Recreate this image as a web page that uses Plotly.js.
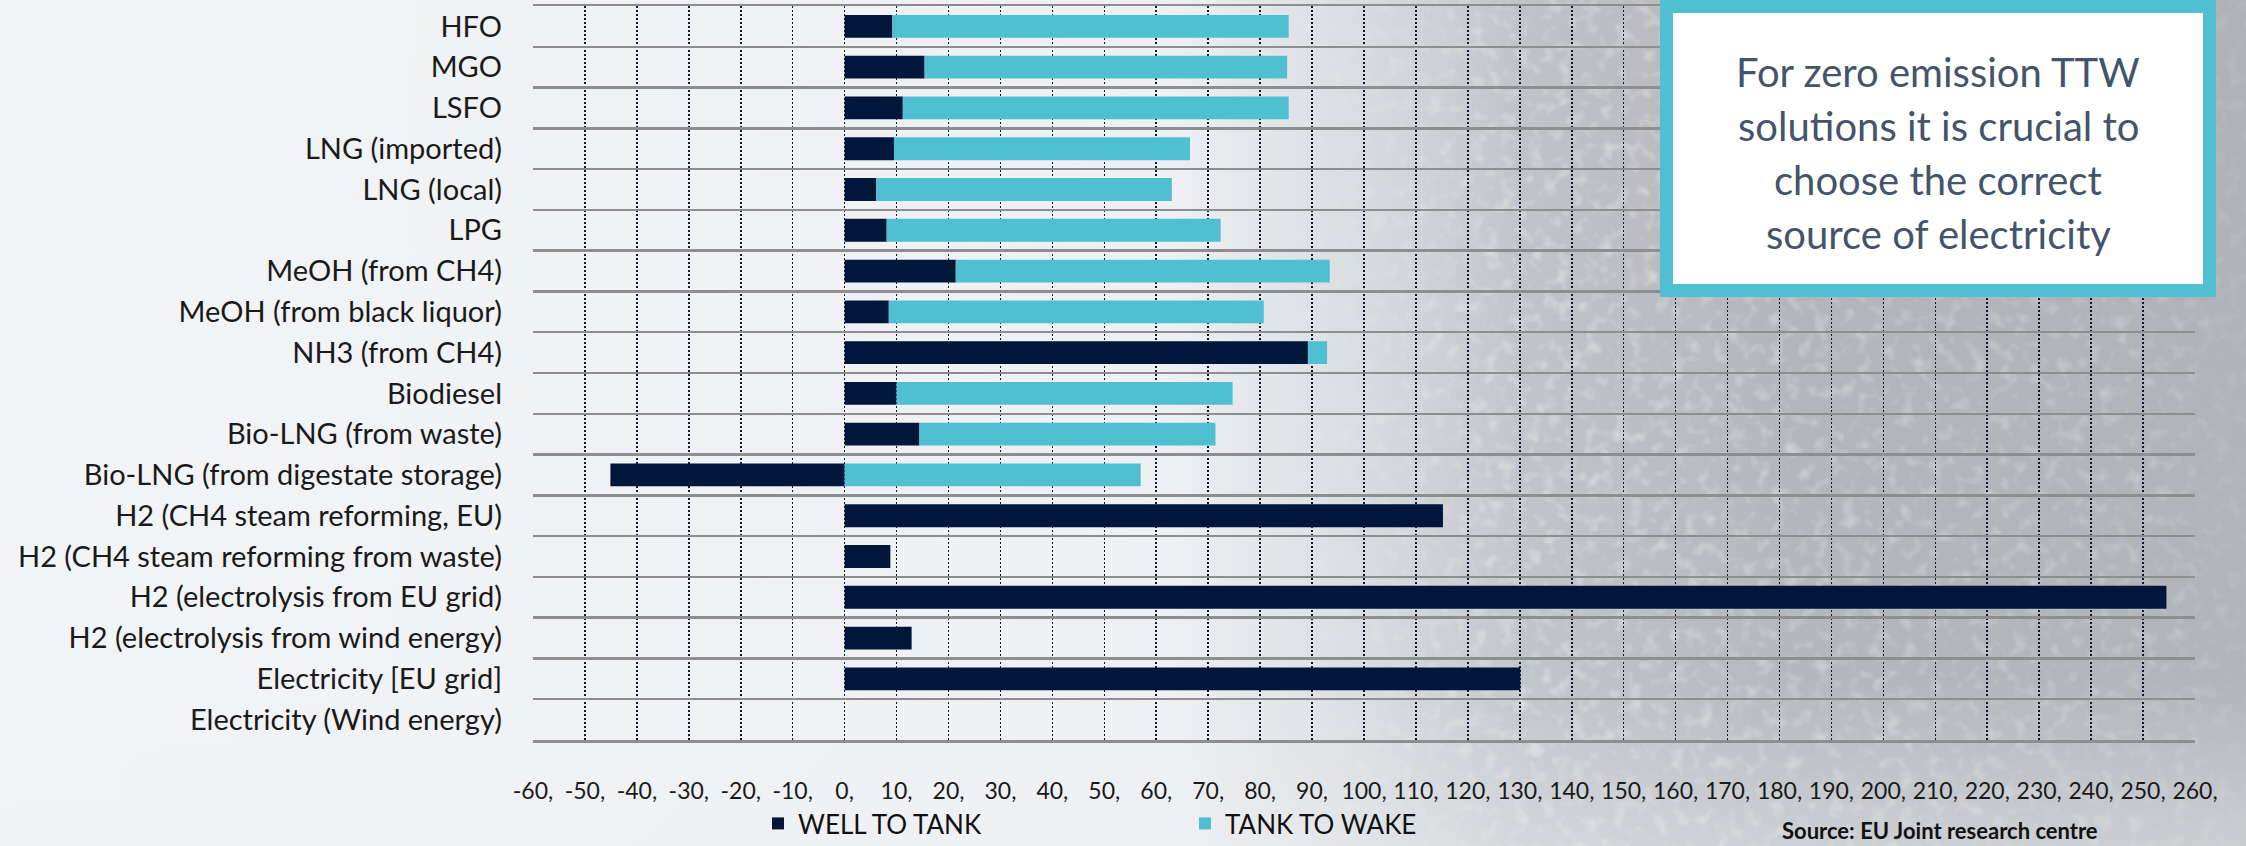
<!DOCTYPE html>
<html>
<head>
<meta charset="utf-8">
<script src="https://cdn.plot.ly/plotly-3.0.1.min.js"></script>
<style>
  html, body { margin: 0; padding: 0; }
  body {
    width: 2246px; height: 846px; overflow: hidden;
    background-color: #EEF0F3;
  }
  #chart { width: 2246px; height: 846px; position: relative; }
</style>
</head>
<body>
<div id="chart"></div>
<script>
// ---- data ----
const categories = [
  "HFO", "MGO", "LSFO", "LNG (imported)", "LNG (local)", "LPG",
  "MeOH (from CH4)", "MeOH (from black liquor)", "NH3 (from CH4)", "Biodiesel",
  "Bio-LNG (from waste)", "Bio-LNG (from digestate storage)",
  "H2 (CH4 steam reforming, EU)", "H2 (CH4 steam reforming from waste)",
  "H2 (electrolysis from EU grid)", "H2 (electrolysis from wind energy)",
  "Electricity [EU grid]", "Electricity (Wind energy)"
];
const wellToTank = [9.2, 15.4, 11.2, 9.5, 6.1, 8.1, 21.4, 8.5, 89.2, 10.0, 14.4, -45.1, 115.2, 8.8, 254.5, 12.9, 130.1, 0];
const tankToWake = [76.3, 69.8, 74.3, 57.0, 56.9, 64.3, 72.0, 72.2, 3.7, 64.7, 57.0, 57.0, 0, 0, 0, 0, 0, 0];
const seriesNames = ["WELL TO TANK", "TANK TO WAKE"];
const tickValues = [-60, -50, -40, -30, -20, -10, 0, 10, 20, 30, 40, 50, 60, 70, 80, 90, 100, 110, 120, 130, 140, 150, 160, 170, 180, 190, 200, 210, 220, 230, 240, 250, 260];
const tickLabels = ["-60,", "-50,", "-40,", "-30,", "-20,", "-10,", "0,", "10,", "20,", "30,", "40,", "50,", "60,", "70,", "80,", "90,", "100,", "110,", "120,", "130,", "140,", "150,", "160,", "170,", "180,", "190,", "200,", "210,", "220,", "230,", "240,", "250,", "260,"];
const calloutLines = ["For zero emission TTW", "solutions it is crucial to", "choose the correct", "source of electricity"];
const sourceText = "Source: EU Joint research centre";

// ---- background (approximation of the photo behind the chart) ----
(function () {
  const svg =
    "<svg xmlns='http://www.w3.org/2000/svg' width='2246' height='846'>" +
    "<defs>" +
    "<linearGradient id='base' x1='0' y1='0' x2='1' y2='0'>" +
    "<stop offset='0' stop-color='#F2F4F6'/><stop offset='0.52' stop-color='#EEF0F3'/>" +
    "<stop offset='0.6' stop-color='#DADDE1'/><stop offset='0.68' stop-color='#BFC2C7'/>" +
    "<stop offset='0.8' stop-color='#B1B4B9'/><stop offset='1' stop-color='#AEB1B6'/></linearGradient>" +
    "<linearGradient id='fade' x1='0' y1='0' x2='0' y2='1'>" +
    "<stop offset='0' stop-color='#EEF0F3' stop-opacity='0'/><stop offset='0.8' stop-color='#EEF0F3' stop-opacity='0.05'/>" +
    "<stop offset='1' stop-color='#EEF0F3' stop-opacity='0.45'/></linearGradient>" +
    "<linearGradient id='mg' x1='0' y1='0' x2='1' y2='0'>" +
    "<stop offset='0.56' stop-color='black'/><stop offset='0.68' stop-color='white'/>" +
    "<stop offset='0.95' stop-color='#999999'/><stop offset='1' stop-color='#444444'/></linearGradient>" +
    "<mask id='m'><rect width='2246' height='846' fill='url(#mg)'/></mask>" +
    "<filter id='n' x='0' y='0' width='100%' height='100%'>" +
    "<feTurbulence type='fractalNoise' baseFrequency='0.07' numOctaves='2' seed='7'/>" +
    "<feColorMatrix type='matrix' values='0 0 0 0 1  0 0 0 0 1  0 0 0 0 1  2.6 0 0 0 -1.3'/>" +
    "</filter>" +
    "</defs>" +
    "<rect width='2246' height='846' fill='url(#base)'/>" +
    "<rect width='2246' height='846' filter='url(#n)' mask='url(#m)' opacity='0.4'/>" +
    "<rect width='2246' height='846' fill='url(#fade)'/>" +
    "</svg>";
  document.body.style.backgroundImage = "url(\"data:image/svg+xml," + encodeURIComponent(svg) + "\")";
  document.body.style.backgroundRepeat = "no-repeat";
})();

// ---- layout geometry (pixels) ----
const W = 2246, H = 846;
const L = 533, R = 2195, T = 6, B = 740;
const px2x = p => (p - L) / (R - L);
const py2y = p => (B - p) / (B - T);

const colWTT = "#00163A";
const colTTW = "#50BFD2";
const font = "Lato, 'Open Sans', sans-serif";

const traces = [
  { type: "bar", orientation: "h", name: seriesNames[0], y: categories, x: wellToTank,
    marker: { color: colWTT, line: { width: 0 } }, hoverinfo: "skip" },
  { type: "bar", orientation: "h", name: seriesNames[1], y: categories, x: tankToWake,
    marker: { color: colTTW, line: { width: 0 } }, hoverinfo: "skip" }
];

const calloutY = [72, 126, 180, 234];
const annotations = calloutLines.map((t, i) => ({
  xref: "paper", yref: "paper", x: px2x(1938), y: py2y(calloutY[i]),
  xanchor: "center", yanchor: "middle", text: t, showarrow: false,
  font: { family: font, size: 40, color: "#44546A" }
}));
annotations.push({
  xref: "paper", yref: "paper", x: px2x(1780), y: py2y(830), xanchor: "left", yanchor: "middle",
  text: "<b>" + sourceText + "</b>", showarrow: false,
  font: { family: font, size: 22, color: "#111111" }
});

const layout = {
  width: W, height: H,
  margin: { l: L, r: W - R, t: T, b: H - B, pad: 0, autoexpand: false },
  paper_bgcolor: "rgba(0,0,0,0)",
  plot_bgcolor: "rgba(0,0,0,0)",
  barmode: "relative",
  bargap: 0.44,
  showlegend: true,
  legend: {
    orientation: "h", x: px2x(758), xanchor: "left", y: py2y(800), yanchor: "top",
    font: { family: font, size: 26, color: "#111111" },
    entrywidth: 382, entrywidthmode: "pixels",
    bgcolor: "rgba(0,0,0,0)", traceorder: "normal"
  },
  xaxis: {
    range: [-60, 260], fixedrange: true,
    tickmode: "array", tickvals: tickValues, ticktext: tickLabels,
    tickfont: { family: font, size: 23, color: "#1a1a1a" },
    ticks: "", ticklabelstandoff: 29,
    showgrid: true, gridcolor: "#0E1A33", gridwidth: 1.6, griddash: "2px,2px",
    zeroline: false,
    showline: true, mirror: true, linecolor: "#8E8E8E", linewidth: 2.5
  },
  yaxis: {
    type: "category", autorange: "reversed", fixedrange: true,
    tickson: "boundaries", ticks: "",
    tickfont: { family: font, size: 29, color: "#1a1a1a" },
    ticklabelstandoff: 30,
    showgrid: true, gridcolor: "#8E8E8E", gridwidth: 2.5,
    zeroline: false, showline: false
  },
  shapes: [
    { type: "rect", xref: "paper", yref: "paper", layer: "above",
      x0: px2x(1666.5), x1: px2x(2209.5), y0: py2y(6.5), y1: py2y(290.5),
      fillcolor: "#FFFFFF", line: { color: colTTW, width: 13 } }
  ],
  annotations: annotations
};

Plotly.newPlot("chart", traces, layout, { staticPlot: true, displayModeBar: false });
</script>
</body>
</html>
